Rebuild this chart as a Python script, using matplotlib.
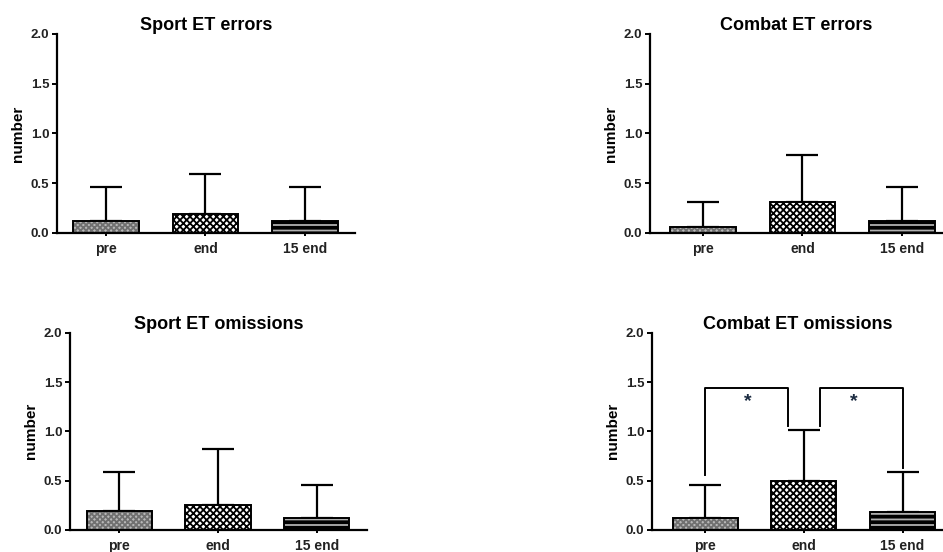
import matplotlib
matplotlib.use("Agg")
import matplotlib.pyplot as plt
import numpy as np

plt.rcParams['font.family'] = ['Liberation Sans', 'DejaVu Sans']
plt.rcParams['font.weight'] = 'bold'
plt.rcParams['hatch.linewidth'] = 1.3

# data (mean, and upper error bar length)
categories = ["pre", "end", "15 end"]
titles = ["Sport ET errors", "Combat ET errors", "Sport ET omissions", "Combat ET omissions"]
sport_err_mean = [0.12, 0.19, 0.12]
sport_err_sd = [0.34, 0.40, 0.34]
combat_err_mean = [0.06, 0.31, 0.12]
combat_err_sd = [0.25, 0.47, 0.34]
sport_om_mean = [0.19, 0.25, 0.12]
sport_om_sd = [0.40, 0.57, 0.34]
combat_om_mean = [0.12, 0.50, 0.185]
combat_om_sd = [0.34, 0.51, 0.405]

# significance brackets for Combat ET omissions: (from, to, height, left leg bottom, right leg bottom)
sig_brackets = [(0, 0.84, 1.44, 0.56, 1.05), (1.16, 2, 1.44, 1.05, 0.63)]
sig_star_x = [0.43, 1.51]
sig_star_y = 1.30

means = [sport_err_mean, combat_err_mean, sport_om_mean, combat_om_mean]
sds = [sport_err_sd, combat_err_sd, sport_om_sd, combat_om_sd]

# axes boxes in figure fraction and x limits
boxes = [
    ([0.0604, 0.578, 0.316, 0.3605], (-0.49, 2.5)),
    ([0.6893, 0.578, 0.3107, 0.3605], (-0.53, 2.41)),
    ([0.0742, 0.0399, 0.315, 0.3574], (-0.5, 2.51)),
    ([0.6914, 0.0399, 0.3086, 0.3574], (-0.54, 2.41)),
]

# (facecolor, hatch colour, hatch)
styles = [("#b8b8b8", "#707070", "xxxxxx"),
          ("white", "black", "xxxxx"),
          ("black", "#b0b0b0", "---")]

fig = plt.figure(figsize=(9.43, 5.52), dpi=100)

for i in range(4):
    box, xlim = boxes[i]
    ax = fig.add_axes(box)
    x = np.arange(len(categories))
    for j in range(len(categories)):
        fc, hc, h = styles[j]
        ax.bar(x[j], means[i][j], width=0.66, color=fc, edgecolor=hc, hatch=h, linewidth=0, zorder=2)
        ax.bar(x[j], means[i][j], width=0.66, fill=False, edgecolor="black", linewidth=1.4, zorder=3)
    ax.errorbar(x, means[i], yerr=[np.zeros(3), sds[i]], fmt="none", ecolor="black",
                elinewidth=1.6, capsize=11.5, capthick=1.6, zorder=1)

    ax.set_xlim(*xlim)
    ax.set_ylim(0, 2.0)
    ax.set_yticks([0, 0.5, 1.0, 1.5, 2.0])
    ax.set_yticklabels(["0.0", "0.5", "1.0", "1.5", "2.0"])
    ax.set_xticks(x)
    ax.set_xticklabels(categories)
    ax.tick_params(axis="y", length=3.5, width=1.4, pad=2, labelsize=9.5, labelcolor="#222222")
    ax.tick_params(axis="x", length=2.5, width=1.4, pad=4, labelsize=10, labelcolor="#222222")
    for s in ["top", "right"]:
        ax.spines[s].set_visible(False)
    for s in ["left", "bottom"]:
        ax.spines[s].set_linewidth(1.6)
    ax.set_ylabel("number", fontsize=11, fontweight="bold", labelpad=4)
    ax.set_title(titles[i], fontsize=13, fontweight="bold", pad=3)

    if i == 3:
        for x0, x1, yt, yb0, yb1 in sig_brackets:
            ax.plot([x0, x0, x1, x1], [yb0, yt, yt, yb1], color="black", lw=1.4, zorder=4)
        for sx in sig_star_x:
            ax.text(sx, sig_star_y, "*", ha="center", va="center",
                    fontsize=14, color="#1a2a40")

fig.savefig("out.png", dpi=100)
